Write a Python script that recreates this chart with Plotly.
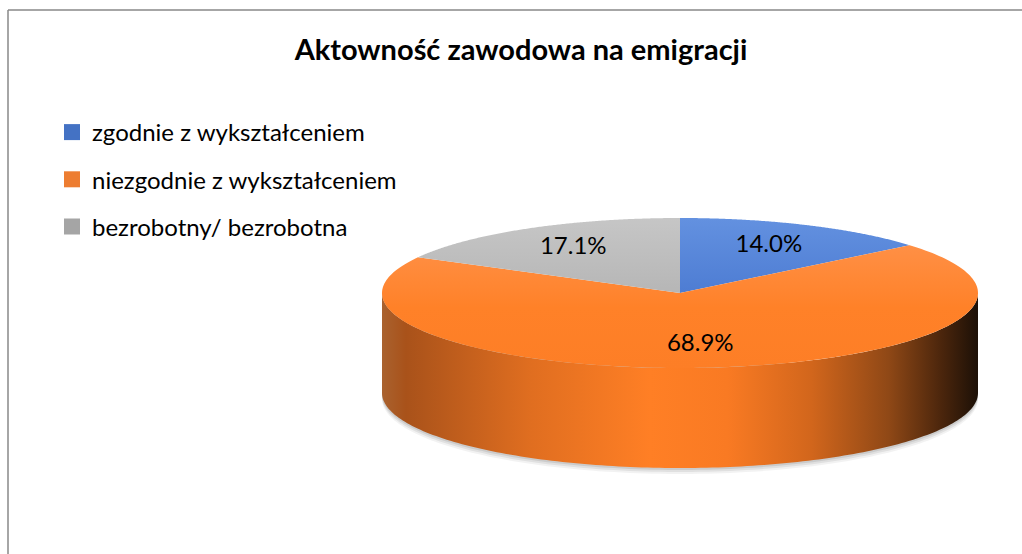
import numpy as np
import plotly.graph_objects as go

# ---- data ----
categories = ["zgodnie z wykształceniem", "niezgodnie z wykształceniem", "bezrobotny/ bezrobotna"]
values = [14.0, 68.9, 17.1]
labels = ["14.0%", "68.9%", "17.1%"]
title_text = "Aktowność zawodowa na emigracji"

# ---- styling / layout ----
W, H = 1022, 554
base_colors = ["#4472C4", "#ED7D31", "#A5A5A5"]
top_scales = [
    [[0, "#6391E0"], [1, "#3868C6"]],
    [[0, "#FF9652"], [0.6, "#FF8128"], [1, "#FD7E26"]],
    [[0, "#C6C6C6"], [1, "#A6A6A6"]],
]
side_scale = [[0, "#A9622F"], [0.04, "#A9521A"], [0.25, "#E06E20"], [0.45, "#FF7F25"],
              [0.58, "#F97A23"], [0.72, "#D2661C"], [0.85, "#8F4816"], [0.94, "#4A250C"],
              [1, "#1C1007"]]
cx, cy, a, b, depth = 680, 293, 298, 75, 100
label_r = 0.70


def pt(theta_deg, r=1.0, dy=0.0):
    t = np.radians(theta_deg)
    return cx + a * r * np.sin(t), cy - b * r * np.cos(t) + dy


fig = go.Figure()

total = sum(values)
angles = np.cumsum([0] + [v / total * 360 for v in values])

# soft shadow under the pie
for k, alpha in [(6, 0.05), (4, 0.07), (2, 0.09)]:
    th = np.linspace(90, 270, 120)
    xs, ys = pt(th, dy=depth + k)
    xs = np.concatenate([xs, [cx - a]])
    ys = np.concatenate([ys, [cy]])
    fig.add_trace(go.Scatter(x=xs, y=ys, fill="toself", mode="none",
                             fillcolor=f"rgba(0,0,0,{alpha})", showlegend=False, hoverinfo="skip"))

# front side walls (visible range 90..270 degrees)
for i, v in enumerate(values):
    s, e = max(angles[i], 90), min(angles[i + 1], 270)
    if e <= s:
        continue
    th = np.linspace(s, e, 160)
    xt, yt = pt(th)
    xb, yb = pt(th[::-1], dy=depth)
    xs = np.concatenate([xt, xb, xt[:1]])
    ys = np.concatenate([yt, yb, yt[:1]])
    fig.add_trace(go.Scatter(
        x=xs, y=ys, fill="toself", mode="none",
        fillgradient=dict(type="horizontal", colorscale=side_scale, start=cx - a, stop=cx + a),
        showlegend=False, hoverinfo="skip"))

# top faces
for i, v in enumerate(values):
    th = np.linspace(angles[i], angles[i + 1], 200)
    xe, ye = pt(th)
    xs = np.concatenate([[cx], xe, [cx]])
    ys = np.concatenate([[cy], ye, [cy]])
    fig.add_trace(go.Scatter(
        x=xs, y=ys, fill="toself", mode="none",
        fillgradient=dict(type="vertical", colorscale=top_scales[i], start=cy - b, stop=cy + b),
        showlegend=False, hoverinfo="skip"))

# data labels
mid = (angles[:-1] + angles[1:]) / 2
lx, ly = pt(mid, r=label_r)
fig.add_trace(go.Scatter(x=lx, y=ly, mode="text", text=labels,
                         textfont=dict(family="Lato", size=24, color="#000000"),
                         showlegend=False, hoverinfo="skip"))

# legend entries
for i, c in enumerate(categories):
    fig.add_trace(go.Scatter(x=[None], y=[None], mode="markers", name=c,
                             legendgroup=f"g{i}",
                             marker=dict(symbol="square", size=16, color=base_colors[i])))

fig.update_layout(
    width=W, height=H,
    margin=dict(l=0, r=0, t=0, b=0),
    paper_bgcolor="white", plot_bgcolor="white",
    xaxis=dict(range=[0, W], visible=False, fixedrange=True),
    yaxis=dict(range=[H, 0], visible=False, fixedrange=True),
    title=dict(text=title_text, x=521 / W, xanchor="center", y=1 - 50 / H, yanchor="middle",
               font=dict(family="Lato", size=29, color="#000000", weight="bold")),
    legend=dict(x=52 / W, y=1 - 110 / H, xanchor="left", yanchor="top",
                font=dict(family="Lato", size=24, color="#000000"),
                tracegroupgap=13, itemclick=False, itemdoubleclick=False,
                bgcolor="rgba(0,0,0,0)"),
    showlegend=True,
    shapes=[
        dict(type="line", xref="paper", yref="paper", x0=8 / W, x1=1, y0=1 - 10 / H, y1=1 - 10 / H,
             line=dict(color="#898989", width=1.5)),
        dict(type="line", xref="paper", yref="paper", x0=8 / W, x1=8 / W, y0=0, y1=1 - 10 / H,
             line=dict(color="#898989", width=1.5)),
    ],
)

fig.write_html("out.html", config={"displayModeBar": False},
               post_script="document.body.style.margin='0';document.body.style.overflow='hidden';")
